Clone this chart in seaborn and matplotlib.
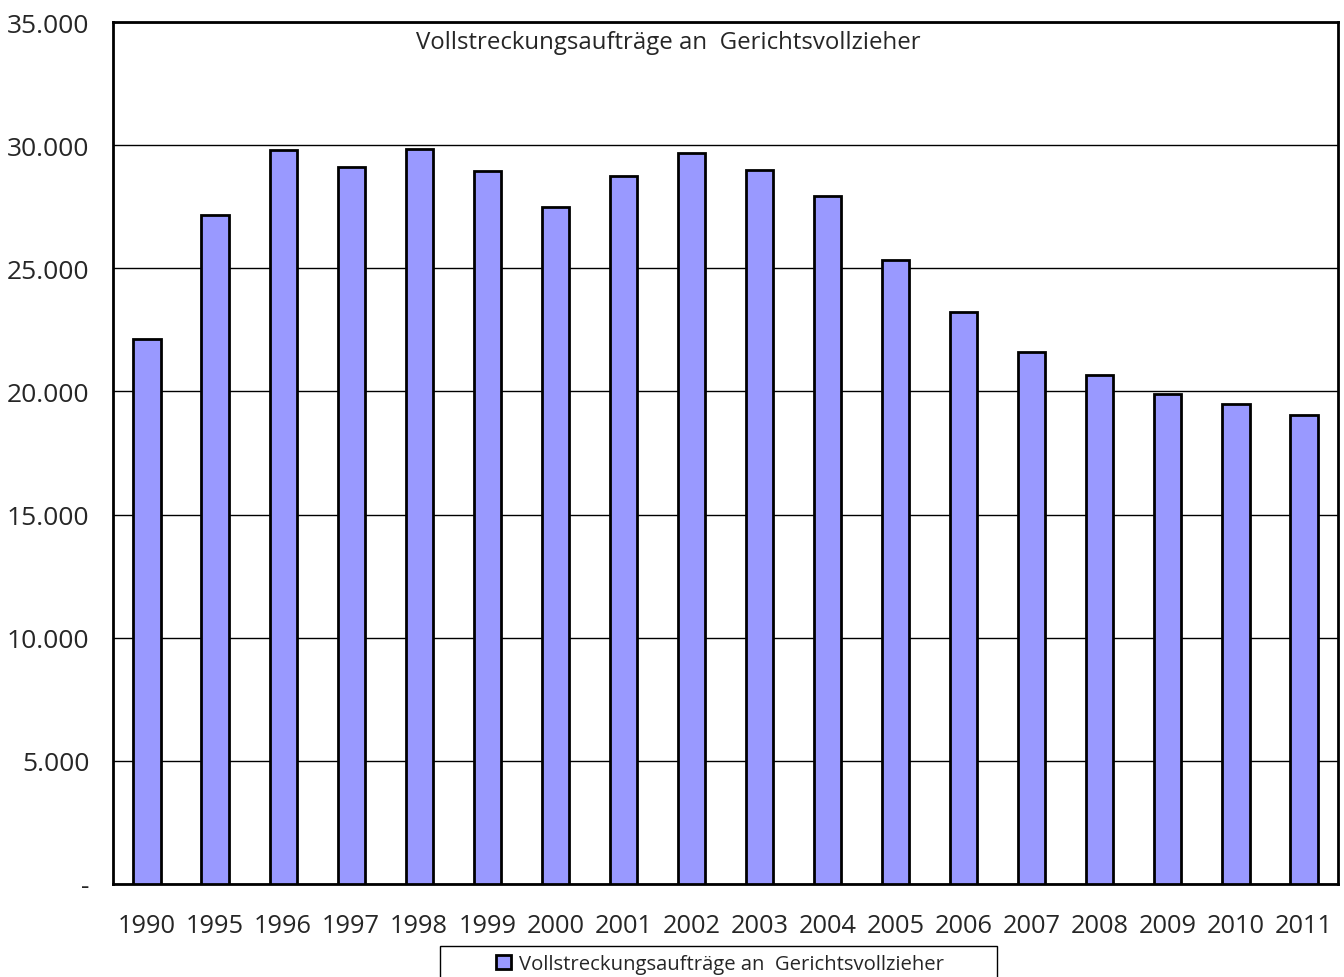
import seaborn as sns
import matplotlib.pyplot as plt
import pandas as pd
from matplotlib.ticker import FuncFormatter, FixedLocator
from matplotlib.patches import Rectangle

# Data
years = ["1990", "1995", "1996", "1997", "1998", "1999", "2000", "2001", "2002",
         "2003", "2004", "2005", "2006", "2007", "2008", "2009", "2010", "2011"]
auftraege = [22130, 27160, 29800, 29110, 29840, 28950, 27490, 28750, 29680,
             28990, 27930, 25330, 23220, 21600, 20670, 19890, 19490, 19040]
series_name = "Vollstreckungsaufträge an  Gerichtsvollzieher"

df = pd.DataFrame({"Jahr": years, "Wert": auftraege})

sns.set_theme(style="white")
plt.rcParams['font.family'] = ['Open Sans', 'DejaVu Sans']

W, H = 1344, 978
fig = plt.figure(figsize=(W / 100, H / 100), dpi=100)
ax = fig.add_axes([113 / W, 1 - 885 / H, (1338 - 113) / W, (885 - 23) / H])

sns.barplot(data=df, x="Jahr", y="Wert", color="#9999FF", width=0.4,
            edgecolor="black", linewidth=2, saturation=1, ax=ax, zorder=3,
            label=series_name)

ax.set_ylim(0, 35000)
ax.set_xlim(-0.5, len(years) - 0.5)
ax.set_yticks(range(0, 35001, 5000))
ax.yaxis.set_major_formatter(FuncFormatter(
    lambda v, p: "-" if v == 0 else f"{int(v):,}".replace(",", ".")))
ax.grid(axis="y", color="black", linewidth=1, zorder=0)
ax.set_axisbelow(True)

ax.xaxis.set_minor_locator(FixedLocator([i - 0.5 for i in range(len(years) + 1)]))
ax.tick_params(axis="x", which="major", length=0, pad=21, labelsize=18.3)
ax.tick_params(axis="x", which="minor", length=8, width=1, color="black", direction="out")
ax.tick_params(axis="y", which="major", length=7, width=1, color="black",
               direction="out", labelsize=19, pad=10)
ax.set_xlabel("")
ax.set_ylabel("")

for s in ax.spines.values():
    s.set_visible(True)
    s.set_color("black")
    s.set_linewidth(2)

ax.text(0.453, 0.977, series_name, transform=ax.transAxes, ha="center",
        va="center", fontsize=17.3)

# legend with a plain box running off the bottom edge, like the original
leg = ax.legend(loc="center", bbox_to_anchor=(720 / W, 1 - 965 / H),
                bbox_transform=fig.transFigure, fontsize=14.6, frameon=False,
                handlelength=0.7, handleheight=0.7, handletextpad=0.4)
for h in leg.legend_handles:
    h.set_linewidth(2)
fig.patches.append(Rectangle((440 / W, -0.01), (997 - 440) / W, 0.01 + (H - 947) / H,
                             transform=fig.transFigure, fill=False,
                             edgecolor="black", linewidth=1))

plt.savefig("out.png", dpi=100)
plt.close()
